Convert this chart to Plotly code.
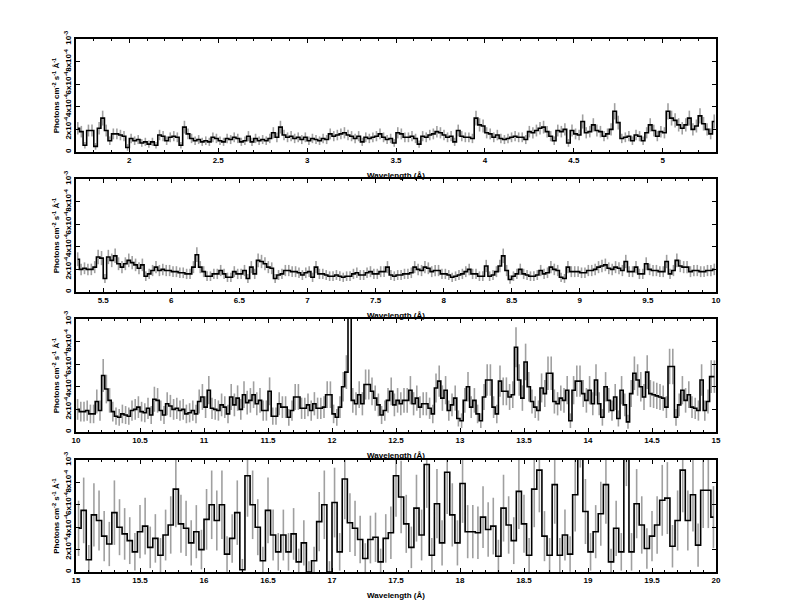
import numpy as np
import plotly.graph_objects as go

# ---------------- data (flux in units of 1e-4 photons cm^-2 s^-1 A^-1) ----------------
p1_start, p1_bin = 1.70, 0.02
p1_flux = [2.1, 1.8, 0.6, 1.9, 1.9, 0.5, 2.1, 3.0, 1.9, 1.0,
           1.6, 1.6, 1.5, 1.4, 0.4, 1.2, 1.0, 1.1, 0.8, 0.9,
           0.7, 0.9, 0.6, 1.5, 1.4, 1.0, 1.3, 1.4, 1.3, 0.6,
           2.2, 1.6, 1.2, 1.0, 1.1, 0.9, 1.0, 0.9, 1.3, 1.2,
           1.0, 0.9, 1.2, 1.1, 1.3, 1.2, 0.9, 1.0, 1.4, 0.9,
           1.2, 1.0, 1.1, 1.0, 1.2, 1.7, 1.3, 2.2, 1.5, 1.3,
           1.4, 1.2, 1.3, 1.1, 1.3, 1.0, 1.2, 1.1, 1.0, 1.2,
           1.1, 1.6, 1.4, 1.5, 1.6, 1.7, 1.5, 1.4, 1.2, 1.4,
           0.9, 1.3, 1.2, 1.3, 1.4, 1.6, 1.3, 1.1, 1.2, 0.8,
           1.7, 1.6, 1.3, 1.3, 1.4, 1.2, 0.7, 1.4, 1.3, 1.5,
           1.6, 1.8, 1.7, 1.5, 1.3, 1.4, 0.9, 1.9, 1.4, 1.3,
           1.3, 1.2, 3.0, 2.4, 2.3, 1.7, 1.6, 1.3, 1.5, 1.2,
           1.1, 1.2, 1.3, 1.4, 1.3, 1.3, 1.1, 1.8, 1.7, 1.9,
           2.1, 2.2, 1.8, 1.4, 1.0, 1.9, 1.8, 2.0, 0.8, 1.9,
           1.6, 1.5, 2.7, 1.7, 1.8, 2.4, 1.9, 1.8, 1.4, 1.6,
           2.0, 3.6, 2.6, 1.2, 1.3, 1.4, 1.0, 1.5, 1.4, 1.0,
           1.7, 2.4, 1.9, 1.4, 1.8, 1.7, 3.6, 3.0, 2.8, 2.4,
           2.1, 2.4, 3.0, 2.0, 2.3, 3.2, 2.5, 2.0, 1.6, 2.7]

p2_start, p2_bin = 5.30, 0.025
p2_flux = [2.9, 2.0, 2.1, 2.0, 2.0, 2.2, 3.1, 3.0, 1.2, 3.1,
           2.8, 3.2, 2.5, 2.2, 2.5, 2.8, 2.6, 2.4, 2.1, 2.4,
           1.4, 1.6, 1.9, 2.2, 1.9, 2.0, 1.9, 1.9, 1.8, 1.8,
           1.7, 1.7, 1.6, 1.6, 2.2, 3.3, 2.2, 1.8, 1.4, 1.4,
           1.6, 1.6, 1.9, 1.6, 1.3, 1.3, 1.8, 1.6, 1.6, 1.9,
           1.2, 2.2, 1.6, 2.8, 2.7, 2.5, 2.2, 2.1, 1.2, 1.5,
           1.6, 1.9, 1.9, 1.8, 1.8, 1.7, 1.5, 1.7, 1.8, 1.3,
           2.2, 1.6, 1.6, 1.5, 1.4, 1.4, 1.5, 1.4, 1.3, 1.4,
           1.4, 1.6, 1.7, 1.5, 1.5, 1.7, 1.8, 1.6, 1.6, 1.8,
           1.8, 2.2, 1.5, 1.4, 1.5, 1.5, 1.6, 1.6, 1.7, 2.2,
           2.0, 1.9, 2.2, 2.1, 1.8, 1.9, 1.9, 1.6, 1.6, 1.5,
           1.3, 1.4, 1.5, 1.6, 1.8, 2.0, 1.6, 1.6, 1.4, 1.4,
           2.3, 1.4, 1.5, 1.8, 2.3, 3.2, 1.9, 1.1, 1.4, 1.6,
           2.0, 1.6, 1.5, 1.4, 1.4, 1.5, 1.9, 1.6, 1.7, 2.2,
           2.0, 1.9, 1.3, 1.2, 2.2, 1.8, 1.8, 1.8, 1.7, 1.7,
           1.9, 1.9, 2.0, 2.2, 2.3, 2.4, 2.1, 2.0, 2.2, 2.1,
           1.9, 2.7, 1.8, 1.8, 2.2, 1.6, 1.6, 2.5, 2.0, 1.9,
           1.9, 1.8, 1.8, 2.7, 1.6, 1.9, 2.8, 2.3, 2.2, 2.2,
           1.8, 1.9, 1.9, 1.8, 1.8, 1.9, 1.9, 2.0]

p3_start, p3_bin = 10.0, 0.025
p3_flux = [2.0, 1.8, 1.8, 1.9, 1.6, 1.6, 2.7, 1.9, 5.0, 3.8,
           2.8, 1.8, 1.4, 1.3, 1.6, 1.5, 1.4, 1.9, 2.0, 2.2,
           1.8, 1.7, 2.1, 1.5, 2.9, 2.8, 1.9, 1.5, 2.5, 2.3,
           2.0, 2.1, 1.9, 2.0, 1.6, 1.7, 1.9, 1.6, 2.7, 3.1,
           2.2, 3.7, 2.1, 2.0, 1.9, 2.4, 2.2, 1.6, 3.1, 2.4,
           3.0, 2.0, 3.3, 2.6, 2.8, 3.3, 2.5, 2.8, 1.9, 1.9,
           3.6, 1.4, 1.4, 2.5, 2.2, 2.2, 1.3, 1.9, 3.1, 3.1,
           2.1, 2.1, 2.4, 1.9, 2.5, 2.1, 2.1, 2.2, 3.3, 3.3,
           1.6, 1.3, 2.2, 4.0, 5.3, 40.0, 2.8, 2.5, 3.3, 2.5,
           4.2, 4.2, 3.6, 3.0, 2.4, 1.5, 1.9, 2.8, 3.6, 2.4,
           2.8, 2.5, 2.8, 2.8, 3.7, 2.5, 3.0, 2.2, 2.5, 2.5,
           2.1, 1.6, 3.9, 4.5, 3.0, 3.7, 1.9, 2.4, 3.0, 1.2,
           1.0, 2.8, 4.0, 2.2, 2.8, 1.6, 1.0, 3.1, 4.6, 4.6,
           2.2, 1.6, 4.5, 3.6, 3.6, 3.1, 3.3, 7.5, 4.6, 3.0,
           6.2, 4.0, 2.7, 2.2, 1.9, 3.9, 3.4, 5.2, 5.2, 2.7,
           2.5, 3.0, 2.8, 3.7, 1.0, 3.7, 4.5, 4.5, 3.4, 2.8,
           3.7, 2.5, 4.6, 2.5, 1.3, 4.0, 2.8, 1.9, 3.1, 1.2,
           3.7, 2.4, 0.9, 3.4, 5.2, 4.6, 4.0, 3.1, 5.3, 3.4,
           3.3, 3.2, 3.1, 3.0, 2.2, 5.8, 5.8, 1.3, 2.4, 3.7,
           2.8, 3.3, 2.2, 2.1, 1.9, 4.6, 1.9, 2.7, 4.9, 4.9]

p4_start, p4_bin = 15.0, 0.04
p4_flux = [3.9, 5.5, 1.1, 5.1, 4.6, 3.2, 2.5, 5.3, 4.0, 3.4,
           2.8, 1.8, 3.6, 4.1, 2.2, 3.0, 1.5, 3.3, 4.2, 7.4,
           4.3, 3.9, 2.6, 3.6, 2.0, 4.7, 6.0, 4.6, 6.0, 1.6,
           3.0, 5.3, 0.2, 8.6, 6.0, 4.0, 1.0, 5.5, 3.3, 1.8,
           3.3, 1.8, 3.4, 0.9, 2.6, 0.0, 1.0, 4.5, 6.0, 0.0,
           6.2, 1.8, 8.3, 4.4, 3.9, 2.9, 1.2, 2.9, 3.1, 0.9,
           3.0, 3.5, 8.6, 6.7, 4.3, 2.2, 5.7, 3.3, 9.6, 1.5,
           6.1, 2.6, 8.9, 5.1, 2.6, 7.9, 3.6, 3.6, 3.5, 4.9,
           3.8, 4.1, 1.4, 5.7, 4.2, 2.8, 7.2, 4.3, 1.5, 7.4,
           9.1, 3.2, 1.5, 7.8, 1.5, 3.3, 1.6, 6.9, 14.0, 5.4,
           1.8, 3.6, 5.2, 7.8, 0.9, 3.9, 1.8, 12.0, 1.8, 6.1,
           4.2, 2.1, 3.2, 4.2, 6.4, 6.6, 2.3, 4.6, 9.1, 4.6,
           6.9, 2.4, 7.3, 7.3, 4.9]

# typical 1-sigma error at a flux of 1e-4, per panel
err_scale = [0.38, 0.36, 0.65, 1.25]

panels = [
    (p1_start, p1_bin, p1_flux, (1.7, 5.3)),
    (p2_start, p2_bin, p2_flux, (5.3, 10.0)),
    (p3_start, p3_bin, p3_flux, (10.0, 15.0)),
    (p4_start, p4_bin, p4_flux, (15.0, 20.0)),
]

ytick_vals = [0, 2e-4, 4e-4, 6e-4, 8e-4, 1e-3]
ytick_text = ["0", "2x10<sup>-4</sup>", "4x10<sup>-4</sup>", "6x10<sup>-4</sup>",
              "8x10<sup>-4</sup>", "10<sup>-3</sup>"]

# ---------------- layout geometry ----------------
W, H = 792, 612
x0_px, x1_px = 76, 716
y_px = [(39, 152), (179, 292), (319, 432), (460, 572)]

FONT = "Liberation Sans, Arial, sans-serif"
TF = dict(family=FONT, size=8, color="black", weight="bold")
fig = go.Figure()

for k, (start, binw, flux, xr) in enumerate(panels):
    flux = np.array(flux) * 1e-4
    x = start + binw * (np.arange(len(flux)) + 0.5)
    err = err_scale[k] * 1e-4 * np.sqrt(np.clip(flux / 1e-4, 0.6, None))
    xa = "x" if k == 0 else f"x{k+1}"
    ya = "y" if k == 0 else f"y{k+1}"
    fig.add_trace(go.Scatter(
        x=x, y=flux, mode="markers", xaxis=xa, yaxis=ya,
        marker=dict(size=1, color="rgba(0,0,0,0)"),
        error_y=dict(type="data", array=err, visible=True, color="#a0a0a0",
                     thickness=1.6, width=0),
        showlegend=False, hoverinfo="skip"))
    fig.add_trace(go.Scatter(
        x=x, y=flux, mode="lines", xaxis=xa, yaxis=ya,
        line=dict(color="black", width=1.6, shape="hvh"),
        showlegend=False))

    top, bot = y_px[k]
    sfx = "" if k == 0 else str(k + 1)
    fig.layout["xaxis" + sfx] = dict(
        domain=[x0_px / W, x1_px / W], anchor=ya, range=list(xr),
        automargin=False,
        showline=True, linecolor="black", linewidth=1.5, mirror="allticks",
        ticks="inside", ticklen=4, tickwidth=1.2, tickcolor="black",
        dtick=0.5, tick0=0, showgrid=False, zeroline=False,
        minor=dict(dtick=0.1, ticks="inside", ticklen=2, tickcolor="black", showgrid=False),
        tickfont=TF,
        title=dict(text="Wavelength (Å)", font=TF, standoff=8))
    fig.layout["yaxis" + sfx] = dict(
        domain=[1 - bot / H, 1 - top / H], anchor=xa, range=[0, 1e-3],
        automargin=False,
        showline=True, linecolor="black", linewidth=1.5, mirror="allticks",
        ticks="inside", ticklen=4, tickwidth=1.2, tickcolor="black",
        tickvals=ytick_vals, ticktext=ytick_text, tickangle=-90,
        showgrid=False, zeroline=False,
        tickfont=TF,
        title=dict(text="Photons cm<sup>-2</sup> s<sup>-1</sup> Å<sup>-1</sup>",
                   font=TF, standoff=2))

fig.update_layout(width=W, height=H, autosize=False,
                  margin=dict(l=0, r=0, t=0, b=0, autoexpand=False),
                  paper_bgcolor="white", plot_bgcolor="white")

fig.write_html("out.html", config={"displayModeBar": False},
               post_script="document.body.style.margin='0';"
                           "document.body.style.overflow='hidden';")
